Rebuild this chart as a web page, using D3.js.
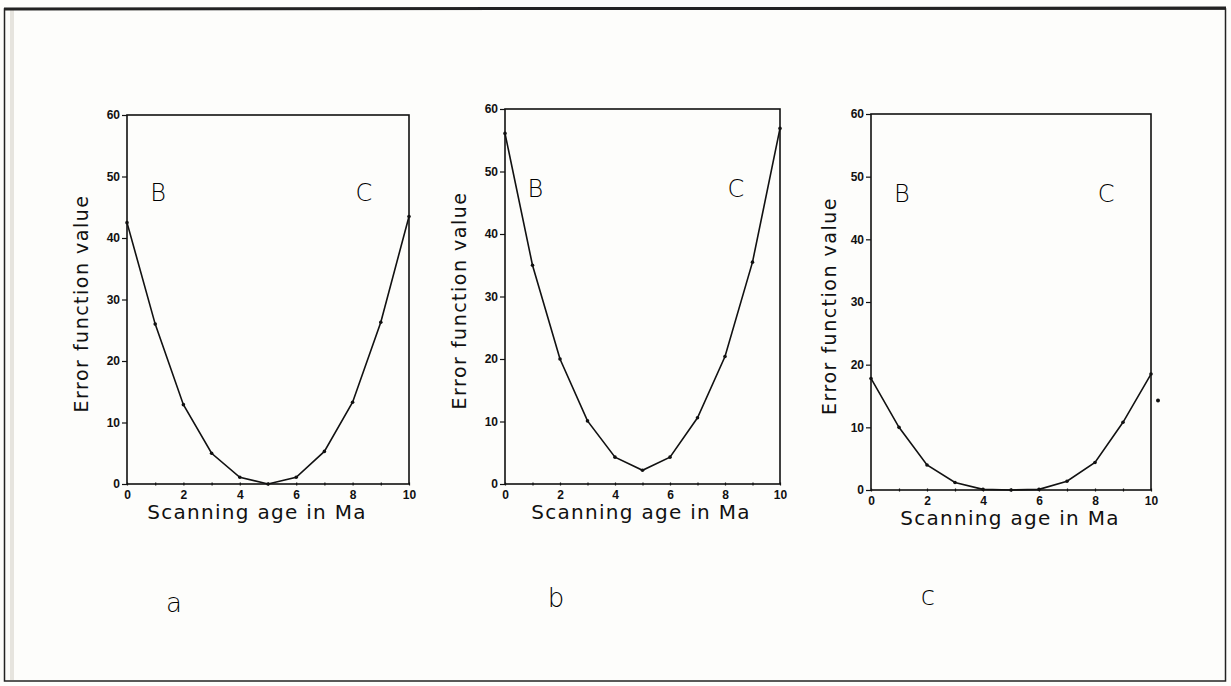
<!DOCTYPE html>
<html><head><meta charset="utf-8">
<script src="https://cdn.jsdelivr.net/npm/d3@7"></script>
<style>
body{margin:0;background:#fdfdfb;}
svg{display:block;}
</style></head>
<body>
<svg id="c" width="1231" height="686"></svg>
<script>
// ---- data ----
const ages = [0,1,2,3,4,5,6,7,8,9,10];
const errorA = [42.5,26.0,12.9,5.0,1.1,0.0,1.1,5.3,13.3,26.3,43.5];
const errorB = [56.1,35.0,20.0,10.1,4.3,2.2,4.3,10.6,20.4,35.5,56.9];
const errorC = [17.8,10.0,4.0,1.2,0.1,0.0,0.1,1.4,4.4,10.8,18.5];
const strayC = [[10.25,14.3]];
const yTicks = [0,10,20,30,40,50,60];
const xTickLabels = [0,2,4,6,8,10];
const xMinorTicks = [0,1,2,3,4,5,6,7,8,9,10];
const panelLetters = ["a","b","c"];
const curveLabels = ["B","C"];
const xTitle = "Scanning age in Ma";
const yTitle = "Error function value";

// ---- layout ----
const panels = [
  {x0:127, x1:409, yTop:115, yBot:484, series:errorA, letter:[174,612], stray:[], xt:257, yt:81},
  {x0:505, x1:780, yTop:109, yBot:484, series:errorB, letter:[556,607], stray:[], xt:641, yt:459},
  {x0:871, x1:1151, yTop:114, yBot:490, series:errorC, letter:[928,605], stray:strayC, xt:1010, yt:829}
];

const svg = d3.select("#c");
svg.append("rect").attr("x",0).attr("y",0).attr("width",1231).attr("height",686).attr("fill","#fdfdfb");
svg.append("rect").attr("x",10).attr("y",10).attr("width",4).attr("height",670).attr("fill","#e6e4de");
svg.append("rect").attr("x",4.5).attr("y",9).attr("width",1221).attr("height",672)
   .attr("fill","none").attr("stroke","#222").attr("stroke-width",1.5);
svg.append("line").attr("x1",4).attr("x2",1226).attr("y1",9).attr("y2",8).attr("stroke","#222").attr("stroke-width",3);

panels.forEach((p,i)=>{
  const x = d3.scaleLinear().domain([0,10]).range([p.x0,p.x1]);
  const y = d3.scaleLinear().domain([0,60]).range([p.yBot,p.yTop]);
  const g = svg.append("g");

  // box
  g.append("rect").attr("x",p.x0).attr("y",p.yTop).attr("width",p.x1-p.x0).attr("height",p.yBot-p.yTop)
   .attr("fill","none").attr("stroke","#111").attr("stroke-width",1.6);

  // y axis
  const ya = d3.axisLeft(y).tickValues(yTicks).tickSize(5).tickPadding(2).tickFormat(d3.format("d"));
  const yg = g.append("g").attr("transform",`translate(${p.x0},0)`).call(ya);
  yg.select(".domain").remove();
  yg.selectAll("line").attr("stroke","#111").attr("stroke-width",1.2);
  yg.selectAll("text").attr("font-family","Liberation Sans, Arial, sans-serif").attr("font-weight","bold").attr("font-size",12).attr("fill","#111");

  // x axis minor ticks
  const xm = d3.axisBottom(x).tickValues(xMinorTicks).tickSize(3).tickFormat("");
  const xmg = g.append("g").attr("transform",`translate(0,${p.yBot-1.5})`).call(xm);
  xmg.select(".domain").remove();
  xmg.selectAll("line").attr("stroke","#111").attr("stroke-width",1.2);
  const xa = d3.axisBottom(x).tickValues(xTickLabels).tickSize(0).tickPadding(6).tickFormat(d3.format("d"));
  const xg = g.append("g").attr("transform",`translate(0,${p.yBot})`).call(xa);
  xg.select(".domain").remove();
  xg.selectAll("text").attr("font-family","Liberation Sans, Arial, sans-serif").attr("font-weight","bold").attr("font-size",12).attr("fill","#111");

  // line
  const pts = ages.map((a,k)=>[a,p.series[k]]);
  g.append("path").datum(pts)
   .attr("d",d3.line().x(d=>x(d[0])).y(d=>y(d[1])))
   .attr("fill","none").attr("stroke","#111").attr("stroke-width",1.6);
  g.selectAll("circle.pt").data(pts).join("circle").attr("class","pt")
   .attr("cx",d=>x(d[0])).attr("cy",d=>y(d[1])).attr("r",1.8).attr("fill","#111");
  g.selectAll("circle.st").data(p.stray).join("circle").attr("class","st")
   .attr("cx",d=>x(d[0])).attr("cy",d=>y(d[1])).attr("r",2).attr("fill","#111");

  // B / C labels
  g.append("text").attr("x",x(1.1)).attr("y",y(46)).attr("text-anchor","middle")
   .attr("font-family","DejaVu Sans, sans-serif").attr("font-size",24).attr("font-weight",300).attr("fill","#000").text(curveLabels[0]);
  g.append("text").attr("x",x(8.4)).attr("y",y(46)).attr("text-anchor","middle")
   .attr("font-family","DejaVu Sans, sans-serif").attr("font-size",24).attr("font-weight",300).attr("fill","#000").text(curveLabels[1]);

  // axis titles
  g.append("text").attr("transform",`translate(${p.yt+7},${(p.yTop+p.yBot)/2+4}) rotate(-90)`)
   .attr("text-anchor","middle").attr("font-family","DejaVu Sans, sans-serif").attr("font-size",19)
   .attr("letter-spacing",1.5).attr("fill","#111").text(yTitle);
  g.append("text").attr("x",p.xt).attr("y",p.yBot+35).attr("text-anchor","middle")
   .attr("font-family","DejaVu Sans, sans-serif").attr("font-size",20).attr("letter-spacing",1.3)
   .attr("fill","#111").text(xTitle);

  // panel letter
  svg.append("text").attr("x",p.letter[0]).attr("y",p.letter[1]).attr("text-anchor","middle")
   .attr("font-family","DejaVu Sans, sans-serif").attr("font-size",26).attr("font-weight",300)
   .attr("fill","#000").text(panelLetters[i]);
});
</script>
</body></html>
